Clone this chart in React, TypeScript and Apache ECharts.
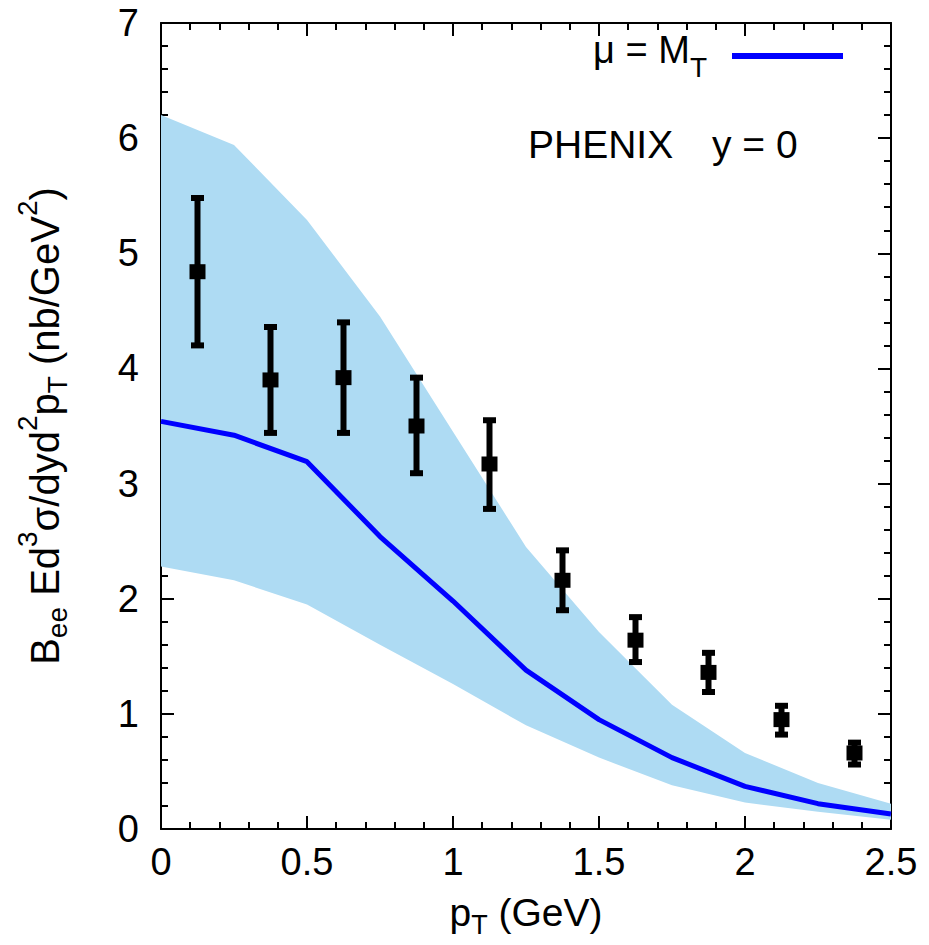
import React, { useEffect, useRef } from "react";
import * as echarts from "echarts";

// Theory band / curve nodes (pT in GeV)
const curveX = [0, 0.25, 0.5, 0.75, 1.0, 1.25, 1.5, 1.75, 2.0, 2.25, 2.5];
const bandUpper = [6.2, 5.94, 5.29, 4.45, 3.45, 2.45, 1.71, 1.08, 0.66, 0.4, 0.22];
const bandLower = [2.28, 2.16, 1.95, 1.6, 1.26, 0.9, 0.62, 0.38, 0.23, 0.15, 0.08];
const centralCurve = [3.54, 3.42, 3.19, 2.54, 1.98, 1.38, 0.95, 0.62, 0.37, 0.22, 0.13];

// PHENIX data points
const dataPt = [0.125, 0.375, 0.625, 0.875, 1.125, 1.375, 1.625, 1.875, 2.125, 2.375];
const dataVal = [4.84, 3.9, 3.92, 3.5, 3.17, 2.16, 1.64, 1.36, 0.95, 0.66];
const dataHi = [5.48, 4.36, 4.4, 3.92, 3.55, 2.42, 1.84, 1.53, 1.07, 0.75];
const dataLo = [4.2, 3.44, 3.44, 3.09, 2.78, 1.9, 1.45, 1.19, 0.82, 0.56];

const legendName = "μ = M_T";

export default function App() {
  const ref = useRef<HTMLDivElement>(null);

  useEffect(() => {
    if (!ref.current) return;
    const chart = echarts.init(ref.current, null, { renderer: "svg" });
    const font = "'Liberation Sans', Arial, Helvetica, sans-serif";

    const lineStyle = { color: "#000", width: 2 };
    const tickCommon = { show: true, inside: true, length: 13, lineStyle: { color: "#000", width: 2 } };
    const minorCommon = { show: true, splitNumber: 5, length: 7, lineStyle: { color: "#000", width: 2 } };

    const xBase = {
      type: "value" as const,
      min: 0,
      max: 2.5,
      interval: 0.5,
      axisLine: { show: true, onZero: false, lineStyle },
      axisTick: tickCommon,
      minorTick: minorCommon,
      splitLine: { show: false },
      minorSplitLine: { show: false },
    };
    const yBase = {
      type: "value" as const,
      min: 0,
      max: 7,
      interval: 1,
      axisLine: { show: true, onZero: false, lineStyle },
      axisTick: tickCommon,
      minorTick: minorCommon,
      splitLine: { show: false },
      minorSplitLine: { show: false },
    };

    chart.setOption({
      animation: false,
      backgroundColor: "#fff",
      grid: { left: 161, right: 38, top: 23, bottom: 116, containLabel: false },
      legend: {
        data: [legendName],
        selectedMode: false,
        right: 86,
        top: 31,
        padding: 0,
        align: "right",
        icon: "rect",
        itemWidth: 111,
        itemHeight: 6,
        formatter: () => "{a|μ = M}{s|T}{g|}",
        textStyle: {
          color: "#000",
          fontFamily: font,
          rich: {
            a: { fontSize: 38, fontFamily: font, color: "#000", padding: [0, 0, 12, 0] },
            s: { fontSize: 28, fontFamily: font, color: "#000", padding: [22, 0, 0, 0] },
            g: { width: 20 },
          },
        },
      },
      xAxis: [
        {
          ...xBase,
          position: "bottom",
          axisLabel: { show: true, margin: 14, fontSize: 38, fontFamily: font, color: "#000" },
          name: "{p|p}{s|T}{p| (GeV)}",
          nameLocation: "middle",
          nameGap: 58,
          nameTextStyle: {
            color: "#000",
            fontFamily: font,
            rich: {
              p: { fontSize: 39, fontFamily: font, color: "#000" },
              s: { fontSize: 27, fontFamily: font, color: "#000", padding: [24, 0, 0, 0] },
            },
          },
        },
        { ...xBase, position: "top", axisLabel: { show: false } },
      ],
      yAxis: [
        {
          ...yBase,
          position: "left",
          axisLabel: { show: true, margin: 22, fontSize: 38, fontFamily: font, color: "#000" },
        },
        { ...yBase, position: "right", axisLabel: { show: false } },
      ],
      graphic: [
        {
          type: "text",
          x: 45,
          y: 426,
          rotation: Math.PI / 2,
          style: {
            text: "{t|B}{sb|ee}{t| Ed}{sp|3}{t|σ/dyd}{sp|2}{t|p}{sb|T}{t| (nb/GeV}{sp|2}{t|)}",
            align: "center",
            verticalAlign: "middle",
            fill: "#000",
            font: `40px ${font}`,
            rich: {
              t: { fontSize: 40, fontFamily: font, fill: "#000" },
              sb: { fontSize: 28, fontFamily: font, fill: "#000", padding: [24, 0, 0, 0] },
              sp: { fontSize: 28, fontFamily: font, fill: "#000", padding: [0, 0, 36, 0] },
            },
          },
        },
        {
          type: "text",
          x: 528,
          y: 144,
          style: { text: "PHENIX", font: `39px ${font}`, fill: "#000", align: "left", verticalAlign: "middle" },
        },
        {
          type: "text",
          x: 712,
          y: 144,
          style: { text: "y = 0", font: `39px ${font}`, fill: "#000", align: "left", verticalAlign: "middle" },
        },
      ],
      series: [
        {
          type: "custom",
          name: "band",
          xAxisIndex: 0,
          yAxisIndex: 0,
          z: 1,
          silent: true,
          data: [[0, 0]],
          encode: { x: 0, y: 1 },
          renderItem: (_params: any, api: any) => {
            const pts: number[][] = [];
            for (let i = 0; i < curveX.length; i++) pts.push(api.coord([curveX[i], bandUpper[i]]));
            for (let i = curveX.length - 1; i >= 0; i--) pts.push(api.coord([curveX[i], bandLower[i]]));
            return { type: "polygon", shape: { points: pts }, style: { fill: "#aedbf3" } };
          },
        },
        {
          type: "line",
          name: legendName,
          xAxisIndex: 0,
          yAxisIndex: 0,
          z: 2,
          symbol: "none",
          color: "#0000ff",
          lineStyle: { color: "#0000ff", width: 5 },
          data: curveX.map((x, i) => [x, centralCurve[i]]),
        },
        {
          type: "custom",
          name: "errors",
          xAxisIndex: 0,
          yAxisIndex: 0,
          z: 3,
          silent: true,
          data: dataPt.map((x, i) => [x, dataLo[i], dataHi[i]]),
          encode: { x: 0, y: [1, 2] },
          renderItem: (_params: any, api: any) => {
            const x = api.value(0);
            const lo = api.coord([x, api.value(1)]);
            const hi = api.coord([x, api.value(2)]);
            const capW = 13;
            const capH = 6;
            const barW = 6;
            return {
              type: "group",
              children: [
                { type: "rect", shape: { x: lo[0] - barW / 2, y: hi[1], width: barW, height: lo[1] - hi[1] }, style: { fill: "#000" } },
                { type: "rect", shape: { x: hi[0] - capW / 2, y: hi[1] - capH / 2, width: capW, height: capH }, style: { fill: "#000" } },
                { type: "rect", shape: { x: lo[0] - capW / 2, y: lo[1] - capH / 2, width: capW, height: capH }, style: { fill: "#000" } },
              ],
            };
          },
        },
        {
          type: "scatter",
          name: "PHENIX",
          xAxisIndex: 0,
          yAxisIndex: 0,
          z: 4,
          symbol: "rect",
          symbolSize: [16, 15],
          itemStyle: { color: "#000", opacity: 1 },
          data: dataPt.map((x, i) => [x, dataVal[i]]),
        },
      ],
    });

    return () => chart.dispose();
  }, []);

  return <div ref={ref} style={{ position: "absolute", left: 0, top: 0, width: 929, height: 945 }} />;
}
